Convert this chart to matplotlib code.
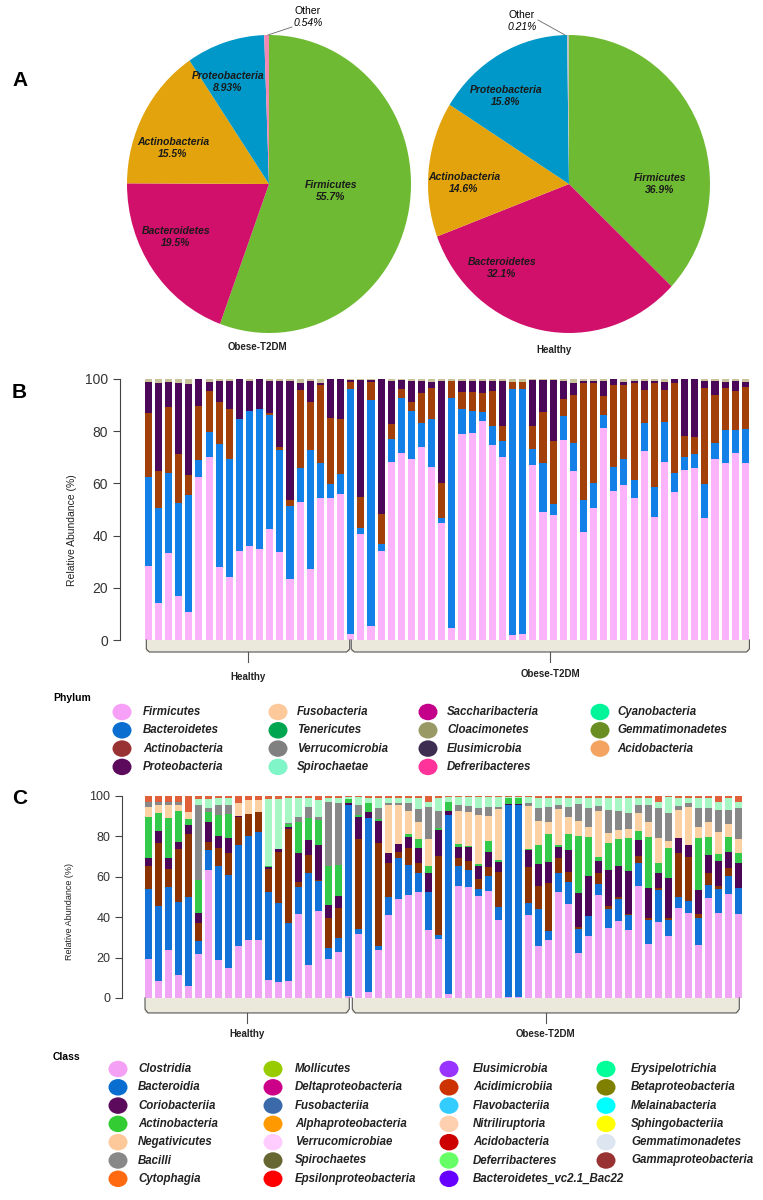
import matplotlib
matplotlib.use('Agg')
import matplotlib.pyplot as plt
from matplotlib import font_manager
from matplotlib.patches import Ellipse
import numpy as np

W, H = 763, 1200
plt.rcParams['font.family'] = ['Liberation Sans', 'DejaVu Sans']
installed = {f.name for f in font_manager.fontManager.ttflist}
if 'Liberation Sans Narrow' in installed:
    NARROW, PIE_FS = ['Liberation Sans Narrow', 'DejaVu Sans'], 9
else:
    NARROW, PIE_FS = ['Liberation Sans', 'DejaVu Sans'], 7.5

# ---- panel A: pies ----
pie_names = ['Firmicutes', 'Bacteroidetes', 'Actinobacteria', 'Proteobacteria', 'Other']
obese_pct = [55.7, 19.5, 15.5, 8.93, 0.54]
healthy_pct = [36.9, 32.1, 14.6, 15.8, 0.21]
pie_cols_obese = ['#6fba33', '#d0106a', '#e2a30c', '#0098c8', '#f08ab4']
pie_cols_healthy = ['#6fba33', '#d0106a', '#e2a30c', '#0098c8', '#c0c0c0']

# ---- panel B: phylum, cumulative top of each layer (%) ----
b_firm = [28.4, 14.0, 33.2, 16.9, 10.9, 62.6, 70.2, 27.8, 24.0, 34.2, 36.0, 34.7, 42.5, 33.6, 23.2, 52.7, 27.2, 54.4, 54.4, 56.0,
          2.3, 40.5, 5.5, 34.2, 68.2, 71.8, 69.5, 74.0, 66.4, 44.7, 4.5, 78.8, 79.4, 84.0, 74.6, 70.2, 1.9, 2.3, 67.0, 49.0,
          47.9, 76.6, 64.9, 41.3, 50.7, 81.1, 57.2, 59.3, 54.4, 72.3, 47.0, 68.2, 56.8, 65.0, 65.8, 46.6, 69.3, 67.7, 71.8, 67.7]
b_bact = [62.3, 50.6, 64.1, 52.4, 55.6, 69.0, 79.6, 75.2, 69.5, 84.7, 87.9, 88.5, 86.1, 72.8, 51.5, 65.8, 72.8, 67.7, 59.8, 63.5,
          96.0, 43.0, 92.0, 36.8, 77.1, 92.6, 87.7, 83.0, 84.8, 46.6, 92.8, 88.4, 87.7, 87.2, 82.0, 76.4, 96.0, 96.0, 73.0, 67.7,
          52.2, 85.8, 75.4, 53.5, 60.3, 86.3, 66.4, 69.3, 61.3, 83.0, 58.7, 83.7, 64.1, 70.2, 71.1, 59.6, 75.4, 80.5, 80.5, 80.8]
b_actino = [86.8, 64.9, 89.4, 71.1, 63.2, 89.8, 95.5, 91.0, 88.6, 84.7, 87.9, 88.5, 86.8, 73.8, 53.6, 95.8, 91.0, 97.7, 85.2, 84.8,
            99.0, 54.7, 99.0, 48.3, 82.9, 96.3, 91.0, 94.6, 96.7, 60.3, 99.4, 94.9, 94.9, 94.6, 95.4, 82.0, 99.0, 99.0, 82.0, 87.2,
            76.4, 92.3, 93.9, 98.3, 98.6, 93.6, 97.7, 97.7, 98.6, 95.8, 98.3, 95.8, 98.3, 78.2, 77.6, 96.7, 93.9, 96.7, 95.4, 97.0]
b_proteo = [99.0, 98.3, 99.0, 98.6, 98.0, 100, 99.0, 99.4, 99.4, 100, 99.4, 100, 99.4, 99.4, 99.4, 98.3, 99.4, 98.5, 100, 100,
            99.6, 99.6, 99.6, 99.9, 99.4, 99.5, 99.4, 99.4, 98.8, 99.4, 99.4, 99.4, 99.4, 99.4, 99.4, 99.4, 99.0, 99.0, 99.6, 99.6,
            99.6, 99.4, 98.6, 99.4, 99.4, 99.4, 99.9, 99.0, 99.4, 99.4, 99.4, 98.9, 99.9, 99.9, 99.9, 99.4, 99.4, 99.0, 99.4, 99.0]
b_other = [100] * 60
b_layers = [b_firm, b_bact, b_actino, b_proteo, b_other]
b_colors = ['#fbb4fb', '#1380e8', '#a3400a', '#4c0858', '#c8c39a']

# ---- panel C: class, cumulative top of each layer (%) ----
c_clost = [19.4, 8.6, 23.6, 11.5, 5.8, 21.7, 63.4, 18.6, 14.8, 25.5, 28.5, 28.5, 8.7, 7.7, 8.2, 41.5, 16.5, 43.3, 19.3, 22.6,
           1.2, 31.8, 2.8, 23.6, 41.2, 48.9, 50.9, 52.7, 33.8, 29.2, 2.1, 55.2, 54.9, 50.6, 53.2, 38.7, 0.5, 0.5, 41.2, 25.5,
           28.5, 52.7, 46.6, 22.2, 30.8, 51.1, 34.6, 37.9, 33.8, 55.2, 26.9, 37.4, 30.8, 44.5, 42.3, 26.4, 49.4, 42.0, 51.6, 41.7]
c_bacteroidia = [53.9, 45.3, 54.9, 47.4, 50.2, 28.0, 73.3, 65.4, 61.0, 75.8, 80.2, 82.4, 52.7, 47.0, 37.0, 54.9, 62.1, 57.7, 24.7, 29.7,
                 95.6, 34.1, 89.0, 25.5, 49.9, 69.5, 65.9, 61.8, 52.7, 31.1, 90.6, 65.1, 63.4, 53.9, 60.5, 45.0, 95.6, 95.6, 47.0, 44.0,
                 33.4, 62.1, 57.2, 34.1, 40.7, 56.5, 44.0, 48.9, 41.2, 66.7, 38.7, 53.5, 38.7, 49.9, 47.8, 39.5, 55.7, 54.2, 60.5, 54.4]
c_gamma = [65.1, 76.9, 63.9, 73.8, 81.0, 37.1, 77.0, 74.1, 71.7, 89.8, 91.1, 92.3, 63.8, 72.5, 83.5, 57.2, 70.8, 58.5, 39.5, 44.5,
           95.6, 78.6, 89.0, 76.9, 66.7, 72.5, 74.1, 66.7, 52.7, 70.3, 90.6, 69.2, 68.0, 58.8, 64.7, 62.6, 95.6, 95.6, 64.7, 55.5,
           56.8, 69.2, 62.6, 35.1, 40.7, 62.1, 45.3, 49.9, 41.7, 70.3, 39.5, 54.4, 39.5, 71.7, 70.0, 41.7, 61.8, 55.2, 64.3, 54.4]
c_corio = [69.2, 82.9, 69.2, 77.4, 85.7, 42.3, 87.3, 80.2, 79.4, 90.1, 91.1, 92.3, 64.7, 73.6, 84.8, 71.7, 78.3, 75.8, 46.1, 50.6,
           96.4, 89.8, 92.3, 87.8, 72.0, 76.3, 79.9, 74.1, 61.8, 83.2, 92.8, 75.0, 74.6, 65.1, 72.5, 67.5, 96.0, 96.0, 73.3, 66.4,
           67.5, 74.6, 73.3, 51.9, 60.5, 68.0, 63.4, 65.1, 62.9, 78.3, 54.4, 62.1, 59.3, 79.1, 75.8, 53.5, 70.7, 68.0, 72.5, 66.7]
c_actino = [89.5, 91.4, 89.0, 92.8, 88.5, 58.2, 92.3, 90.6, 91.1, 90.1, 91.1, 92.3, 65.4, 73.6, 86.2, 87.3, 89.0, 88.1, 65.1, 65.9,
            98.4, 90.6, 96.7, 88.5, 72.0, 76.3, 81.2, 78.6, 65.1, 84.0, 97.2, 76.1, 75.3, 66.4, 77.9, 68.4, 98.8, 98.8, 73.6, 75.8,
            81.2, 75.8, 81.0, 80.2, 79.6, 69.7, 76.9, 78.6, 79.4, 82.9, 79.6, 66.7, 74.1, 79.1, 75.8, 79.1, 79.9, 71.3, 79.6, 71.7]
c_negativ = [94.7, 95.6, 95.6, 95.6, 92.3, 58.2, 92.3, 90.6, 91.1, 96.7, 98.0, 98.0, 65.4, 73.6, 86.2, 87.3, 89.0, 88.1, 65.1, 65.9,
             98.4, 90.6, 96.7, 88.5, 95.6, 95.6, 92.8, 87.3, 78.6, 84.0, 97.2, 92.8, 92.3, 90.6, 90.1, 93.4, 98.8, 98.8, 95.0, 87.8,
             87.3, 93.4, 89.8, 87.8, 84.5, 92.8, 81.9, 83.2, 83.5, 91.4, 87.3, 79.1, 77.9, 93.1, 94.7, 84.5, 87.3, 82.4, 86.2, 78.6]
c_bacilli = [97.2, 97.2, 97.0, 97.2, 92.3, 95.6, 94.0, 95.6, 95.6, 96.7, 98.0, 98.0, 65.4, 73.6, 86.8, 89.8, 94.7, 89.8, 97.2, 96.4,
             98.4, 95.6, 96.7, 93.9, 96.4, 96.7, 96.4, 93.4, 94.4, 92.8, 97.2, 95.6, 95.0, 93.9, 94.7, 94.7, 98.8, 98.8, 96.4, 93.9,
             94.4, 95.6, 94.7, 96.0, 93.9, 95.0, 93.1, 92.8, 91.4, 95.6, 95.6, 93.9, 91.8, 95.0, 96.4, 93.9, 93.9, 93.1, 93.1, 93.9]
c_erysip = [97.2, 97.2, 97.0, 97.2, 92.3, 98.4, 98.4, 98.8, 98.8, 96.7, 98.0, 98.0, 98.4, 98.4, 98.8, 98.8, 98.8, 98.0, 98.8, 98.8,
            99.7, 99.3, 98.8, 98.8, 98.8, 98.8, 98.8, 98.8, 97.2, 98.8, 99.3, 99.3, 99.3, 99.3, 99.3, 99.3, 99.7, 99.7, 99.3, 98.8,
            98.8, 98.8, 98.8, 98.8, 98.8, 98.8, 98.8, 98.8, 98.8, 98.8, 98.8, 97.2, 99.3, 98.8, 98.8, 98.8, 98.8, 97.2, 98.8, 97.2]
c_other = [100] * 60
c_layers = [c_clost, c_bacteroidia, c_gamma, c_corio, c_actino, c_negativ, c_bacilli, c_erysip, c_other]
c_colors = ['#f0a6f5', '#1272d8', '#8c3200', '#4d0557', '#33c94a', '#fcd1a4', '#888888', '#a6f7c4', '#e0603a']

# ---- legends ----
phylum_cols = [
    [('Firmicutes', '#f7a0f7'), ('Bacteroidetes', '#0a6ed1'), ('Actinobacteria', '#993333'), ('Proteobacteria', '#5c0a5c')],
    [('Fusobacteria', '#fdc89a'), ('Tenericutes', '#00a550'), ('Verrucomicrobia', '#808080'), ('Spirochaetae', '#7ff5c8')],
    [('Saccharibacteria', '#c4008a'), ('Cloacimonetes', '#999966'), ('Elusimicrobia', '#3d2d50'), ('Defreribacteres', '#ff3399')],
    [('Cyanobacteria', '#00f59a'), ('Gemmatimonadetes', '#6b8e23'), ('Acidobacteria', '#f4a460')],
]
class_cols = [
    [('Clostridia', '#f4a0f4'), ('Bacteroidia', '#0a6ed1'), ('Coriobacteriia', '#5c0a5c'), ('Actinobacteria', '#33cc33'),
     ('Negativicutes', '#fdc89a'), ('Bacilli', '#888888'), ('Cytophagia', '#ff6a10')],
    [('Mollicutes', '#99cc00'), ('Deltaproteobacteria', '#cc0088'), ('Fusobacteriia', '#3a6aaa'), ('Alphaproteobacteria', '#ff9900'),
     ('Verrucomicrobiae', '#ffccff'), ('Spirochaetes', '#666633'), ('Epsilonproteobacteria', '#ff0000')],
    [('Elusimicrobia', '#9933ff'), ('Acidimicrobiia', '#cc3300'), ('Flavobacteriia', '#33ccff'), ('Nitriliruptoria', '#ffd0b0'),
     ('Acidobacteria', '#cc0000'), ('Deferribacteres', '#66ff66'), ('Bacteroidetes_vc2.1_Bac22', '#6600ff')],
    [('Erysipelotrichia', '#00ff99'), ('Betaproteobacteria', '#808000'), ('Melainabacteria', '#00ffff'),
     ('Sphingobacteriia', '#ffff00'), ('Gemmatimonadetes', '#dde6f0'), ('Gammaproteobacteria', '#993333')],
]


def rect(l, t, r, b):
    return [l / W, 1 - b / H, (r - l) / W, (b - t) / H]


fig = plt.figure(figsize=(W / 100, H / 100), dpi=100)

# pies
for box, pct, cols in [((127, 35, 411, 333), obese_pct, pie_cols_obese),
                       ((428, 35, 710, 333), healthy_pct, pie_cols_healthy)]:
    ax = fig.add_axes(rect(*box))
    ax.pie(pct, colors=cols, startangle=90, counterclock=False, radius=1,
           wedgeprops=dict(linewidth=0))
    ax.set_aspect('auto')
    ax.set_xlim(-1, 1)
    ax.set_ylim(-1, 1)
    ax.axis('off')


def stacked(ax, layers, colors, width):
    x = np.arange(60)
    bottom = np.zeros(60)
    for top, col in zip(layers, colors):
        top = np.array(top, dtype=float)
        ax.bar(x, top - bottom, bottom=bottom, width=width, color=col, linewidth=0)
        bottom = top
    ax.set_ylim(0, 100)
    for s in ['top', 'right', 'bottom']:
        ax.spines[s].set_visible(False)
    ax.spines['left'].set_bounds(0, 100)
    ax.spines['left'].set_color('#444444')
    ax.set_xticks([])
    ax.set_yticks([0, 20, 40, 60, 80, 100])
    ax.tick_params(axis='y', length=5, color='#444444', labelcolor='#333333')
    ax.patch.set_visible(False)


def bracket(ax, x0, x1, depth, notch, label, label_y, fs):
    xm = (x0 + x1) / 2
    ax.fill_between([x0, x1], -depth, 0, color='#ebe8dc', linewidth=0, clip_on=False)
    ax.plot([x0, x0, x0 + 0.3, x1 - 0.3, x1, x1], [0, -depth * 0.75, -depth, -depth, -depth * 0.75, 0],
            color='#555555', lw=0.8, clip_on=False)
    ax.plot([xm, xm], [-depth, -notch], color='#555555', lw=0.8, clip_on=False)
    ax.text(xm, label_y, label, ha='center', va='center', fontsize=fs, fontweight='bold',
            color='#222222', clip_on=False)


# panel B
axb = fig.add_axes(rect(120, 379, 755, 640))
stacked(axb, b_layers, b_colors, 0.7)
axb.set_xlim(-2.8, 59.95)
axb.tick_params(axis='y', labelsize=10)
bracket(axb, -0.2, 19.9, 4.6, 8.4, 'Healthy', -14.0, 7)
bracket(axb, 20.05, 59.4, 4.6, 8.4, 'Obese-T2DM', -13.0, 7)

# panel C
axc = fig.add_axes(rect(122, 796, 750, 998))
stacked(axc, c_layers, c_colors, 0.75)
axc.set_xlim(-2.63, 60.17)
axc.tick_params(axis='y', labelsize=9)
bracket(axc, -0.33, 20.1, 7.4, 12.4, 'Healthy', -18.0, 7)
bracket(axc, 20.4, 59.1, 7.4, 12.4, 'Obese-T2DM', -18.0, 7)

# overlay for texts and legends, in pixel coordinates
ov = fig.add_axes([0, 0, 1, 1])
ov.set_xlim(0, W)
ov.set_ylim(H, 0)
ov.axis('off')
ov.patch.set_visible(False)

for letter, y in [('A', 80), ('B', 392), ('C', 798)]:
    ov.text(12, y, letter, fontsize=15, fontweight='bold', ha='left', va='center')

pie_text = [
    ('Proteobacteria', '8.93%', 228, 76), ('Actinobacteria', '15.5%', 173, 142),
    ('Firmicutes', '55.7%', 331, 185), ('Bacteroidetes', '19.5%', 176, 231),
    ('Proteobacteria', '15.8%', 506, 90), ('Actinobacteria', '14.6%', 464, 177),
    ('Firmicutes', '36.9%', 660, 178), ('Bacteroidetes', '32.1%', 502, 262),
]
for name, pct, x, y in pie_text:
    ov.text(x, y, name, fontsize=PIE_FS, fontweight='bold', style='italic', family=NARROW,
            ha='center', va='center', color='#1a1a1a')
    ov.text(x, y + 12, pct, fontsize=PIE_FS, fontweight='bold', style='italic', family=NARROW,
            ha='center', va='center', color='#1a1a1a')

for pct, x, y, line in [('0.54%', 308, 11, ((268, 35), (292, 27))),
                        ('0.21%', 522, 15, ((565, 35), (538, 20)))]:
    ov.text(x, y, 'Other', fontsize=PIE_FS, family=NARROW, ha='center', va='center')
    ov.text(x, y + 12, pct, fontsize=PIE_FS, style='italic', family=NARROW, ha='center', va='center')
    ov.plot([line[0][0], line[1][0]], [line[0][1], line[1][1]], color='#666666', lw=0.6)

ov.text(257, 347, 'Obese-T2DM', fontsize=7, fontweight='bold', ha='center', va='center', color='#222222')
ov.text(554, 350, 'Healthy', fontsize=7, fontweight='bold', ha='center', va='center', color='#222222')

ov.text(72, 530, 'Relative Abundance (%)', rotation=90, fontsize=7.5, ha='center', va='center', color='#222222')
ov.text(70, 912, 'Relative Abundance (%)', rotation=90, fontsize=6.5, ha='center', va='center', color='#222222')


def legend(title, title_y, columns, circle_x, text_x, row_y, dy, fs):
    ov.text(53, title_y, title, fontsize=7.5, fontweight='bold', ha='left', va='center')
    for cx, tx, items in zip(circle_x, text_x, columns):
        for k, (name, col) in enumerate(items):
            y = row_y + k * dy
            ov.add_patch(Ellipse((cx, y), 19, 16.5, color=col, linewidth=0))
            ov.text(tx, y, name, fontsize=fs, fontweight='bold', style='italic',
                    ha='left', va='center', color='#222222')


legend('Phylum', 698, phylum_cols, [122, 278, 428, 600], [143, 297, 447, 617], 712, 18.3, 8.3)
legend('Class', 1057, class_cols, [118, 273, 449, 606], [138, 295, 473, 631], 1069, 18.3, 8.3)

fig.savefig('out.png', dpi=100)
